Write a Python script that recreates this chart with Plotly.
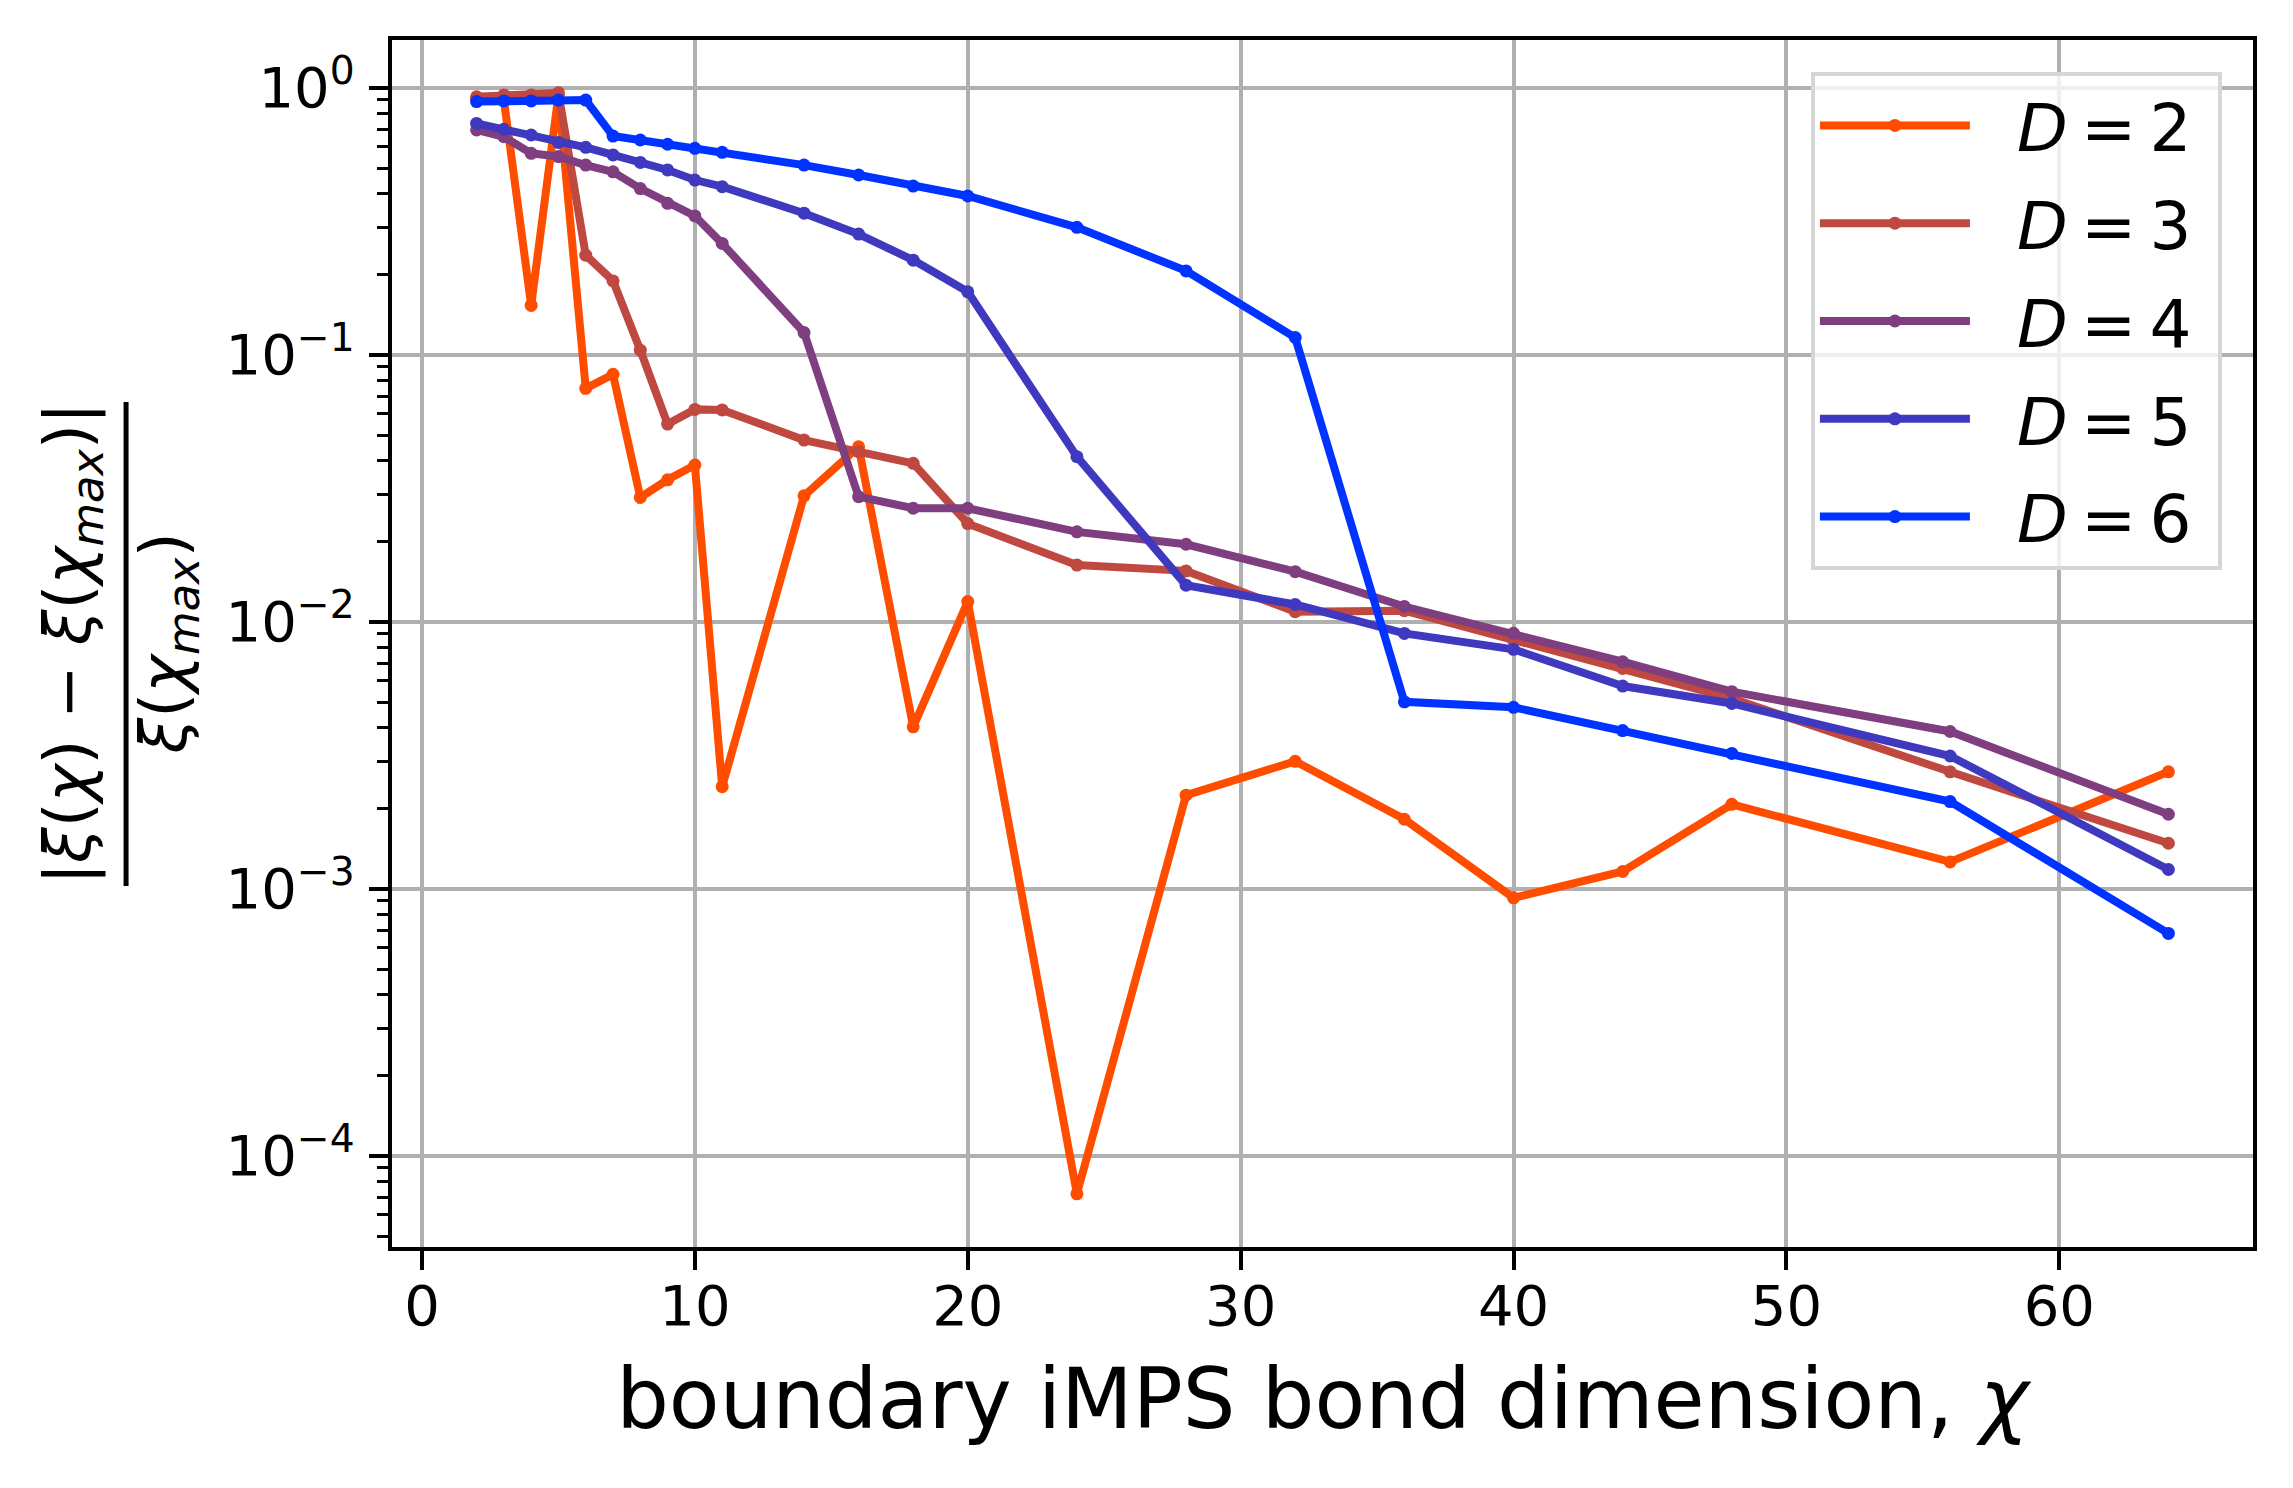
import plotly.graph_objects as go

# bond dimensions chi of the boundary iMPS
chi_values = [2, 3, 4, 5, 6, 7, 8, 9, 10, 11, 14, 16, 18, 20, 24, 28, 32, 36, 40, 44, 48, 56, 64]

# relative error of the correlation length, one list per bulk bond dimension D
err_D2 = [0.91, 0.90, 0.153, 0.94, 0.0748, 0.0844, 0.0292, 0.0340, 0.0386, 0.00241, 0.0296, 0.0452,
          0.00404, 0.0119, 7.2e-5, 0.00224, 0.00300, 0.00182, 0.000924, 0.00116, 0.00207, 0.00126, 0.00274]
err_D3 = [0.925, 0.94, 0.94, 0.957, 0.236, 0.189, 0.104, 0.0550, 0.0624, 0.0621, 0.0479, 0.0433,
          0.0392, 0.0233, 0.0163, 0.0155, 0.0109, 0.0110, 0.00853, 0.00668, 0.00516, 0.00274, 0.00148]
err_D4 = [0.695, 0.655, 0.568, 0.552, 0.513, 0.484, 0.419, 0.369, 0.331, 0.261, 0.121, 0.0294,
          0.0266, 0.0266, 0.0217, 0.0195, 0.0154, 0.0114, 0.00905, 0.00708, 0.00547, 0.00388, 0.00190]
err_D5 = [0.735, 0.699, 0.665, 0.624, 0.598, 0.560, 0.525, 0.492, 0.451, 0.426, 0.339, 0.283,
          0.226, 0.172, 0.0415, 0.0137, 0.0116, 0.00904, 0.00788, 0.00574, 0.00494, 0.00314, 0.00118]
err_D6 = [0.887, 0.892, 0.892, 0.899, 0.899, 0.659, 0.637, 0.614, 0.593, 0.573, 0.513, 0.471,
          0.428, 0.393, 0.300, 0.206, 0.116, 0.00501, 0.00478, 0.00391, 0.00321, 0.00212, 0.00068]

bond_dims = [2, 3, 4, 5, 6]
series = [err_D2, err_D3, err_D4, err_D5, err_D6]
colors = ['#FF4D00', '#BF4840', '#7F3E7F', '#3F39BF', '#0033FF']

y_tickvals = [1e-4, 1e-3, 1e-2, 1e-1, 1]
y_ticktext = ['10<sup>−4</sup>', '10<sup>−3</sup>', '10<sup>−2</sup>', '10<sup>−1</sup>', '10<sup>0</sup>']

FONT = 'DejaVu Sans'
NB = '\u00a0'
THIN = '\u2009'

fig = go.Figure()

for D, vals, col in zip(bond_dims, series, colors):
    fig.add_trace(go.Scatter(x=chi_values, y=vals,
                             mode='lines+markers',
                             name=f'{NB}{NB}<i>D</i>{THIN}={THIN}{D}{NB}',
                             legendgroup=f'D{D}',
                             line=dict(color=col, width=8),
                             marker=dict(color=col, size=13)))

# minor log ticks (2..9 x each decade)
minor_vals = [k * 10.0 ** e for e in range(-5, 1) for k in range(2, 10)]

# the page body adds an 8px offset, so the figure is 8px smaller than the window
fig.update_layout(
    width=2285, height=1480,
    margin=dict(l=384, r=40, t=32, b=241),
    paper_bgcolor='white', plot_bgcolor='white',
    font=dict(family=FONT, size=56, color='black'),
    showlegend=True,
    legend=dict(x=0.9833, y=0.9735, xanchor='right', yanchor='top',
                bgcolor='rgba(255,255,255,0.8)', bordercolor='#d6d6d6', borderwidth=4,
                font=dict(family=FONT, size=66, color='black'),
                itemwidth=150, traceorder='grouped', tracegroupgap=9),
)

fig.update_xaxes(range=[-1.1, 67.1], dtick=10, tick0=0,
                 showline=True, linecolor='black', linewidth=4.4, mirror=True,
                 ticks='outside', ticklen=19, tickwidth=4.4, tickcolor='black',
                 showgrid=True, gridcolor='#b0b0b0', gridwidth=4.4, zeroline=False,
                 tickfont=dict(family=FONT, size=56), ticklabelstandoff=-12,
                 title=dict(text='boundary iMPS bond dimension, <i>χ</i>',
                            font=dict(family=FONT, size=83), standoff=33))

fig.update_yaxes(type='log', range=[-4.342, 0.1787],
                 tickmode='array', tickvals=y_tickvals, ticktext=y_ticktext,
                 showline=True, linecolor='black', linewidth=4.4, mirror=True,
                 ticks='outside', ticklen=19, tickwidth=4.4, tickcolor='black',
                 showgrid=True, gridcolor='#b0b0b0', gridwidth=4.4, zeroline=False,
                 tickfont=dict(family=FONT, size=56), ticklabelstandoff=3,
                 minor=dict(tickmode='array', tickvals=minor_vals, ticks='outside',
                            ticklen=11, tickwidth=3.3, tickcolor='black', showgrid=False))

# y-axis label drawn as a fraction: numerator, bar, denominator
fig.add_annotation(text='|<i>ξ</i>(<i>χ</i>) − <i>ξ</i>(<i>χ</i><sub><i>max</i></sub>)|',
                   xref='paper', yref='paper', x=0, y=0.5, xanchor='center', yanchor='middle',
                   xshift=-320, textangle=-90, showarrow=False,
                   font=dict(family=FONT, size=64, color='black'))
fig.add_annotation(text='<i>ξ</i>(<i>χ</i><sub><i>max</i></sub>)',
                   xref='paper', yref='paper', x=0, y=0.5, xanchor='center', yanchor='middle',
                   xshift=-224, textangle=-90, showarrow=False,
                   font=dict(family=FONT, size=64, color='black'))
fig.add_shape(type='line', xref='paper', yref='paper',
              x0=-0.1429, x1=-0.1429, y0=0.299, y1=0.700,
              line=dict(color='black', width=5))

fig.write_html('out.html')
